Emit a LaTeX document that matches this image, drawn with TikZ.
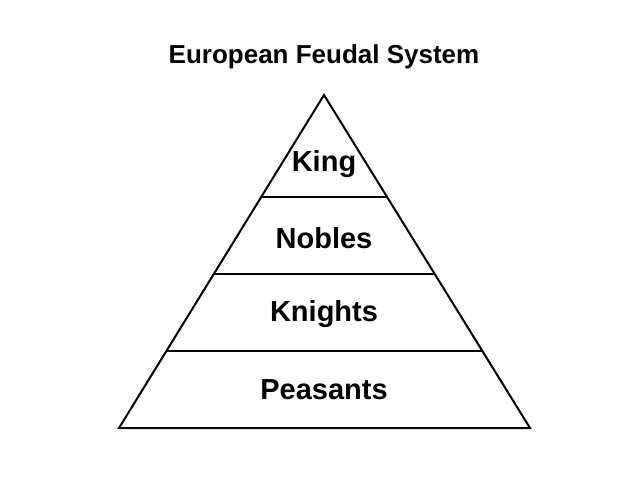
\documentclass[tikz,border=0pt]{standalone}
\usepackage{fontspec}
\setmainfont{Liberation Sans}
\begin{document}
\begin{tikzpicture}[x=1pt,y=-1pt,line width=2pt,
  lbl/.style={font=\bfseries\fontsize{29}{32}\selectfont},
  ttl/.style={font=\bfseries\fontsize{26}{30}\selectfont}]
\useasboundingbox (0,0) rectangle (640,480);
\coordinate (A) at (324,95);
\coordinate (L) at (119,428);
\coordinate (R) at (530,428);
\draw[line join=miter] (A) -- (L) -- (R) -- cycle;
\foreach \y in {197,274,351}{
  \pgfmathsetmacro{\dx}{0.6171*(\y-95)}
  \draw (324-\dx,\y) -- (324+\dx,\y);
}
\node[ttl] (t) at (324,57) {European Feudal System};
\node[lbl] (k) at (324,164) {King};
\node[lbl] (n) at (324,238) {Nobles};
\node[lbl] (kn) at (324,314) {Knights};
\node[lbl] (p) at (324,390) {Peasants};
\end{tikzpicture}
\end{document}
